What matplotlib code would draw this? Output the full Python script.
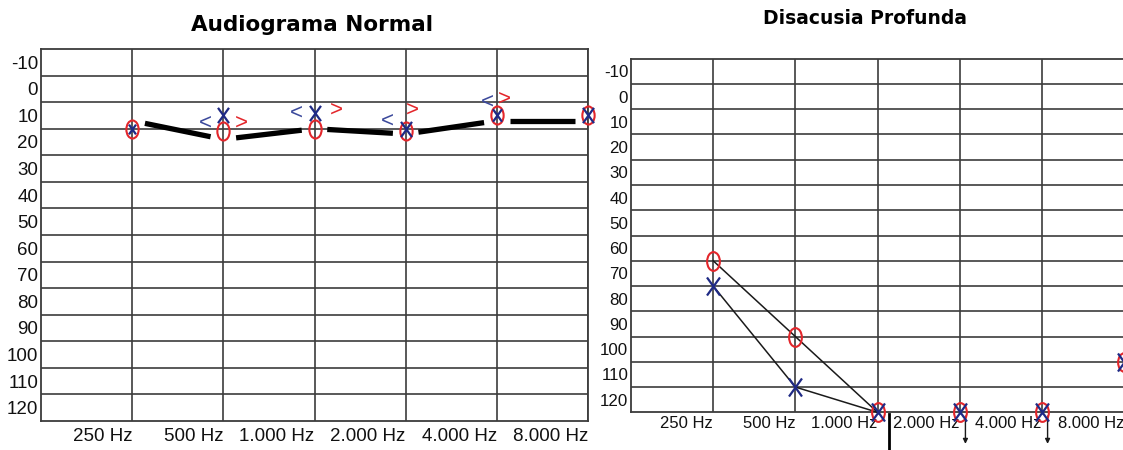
import numpy as np
import matplotlib
matplotlib.use("Agg")
import matplotlib.pyplot as plt
import matplotlib.path as mpath
import matplotlib.transforms as mtrans

# data
freqs = ["250 Hz", "500 Hz", "1.000 Hz", "2.000 Hz", "4.000 Hz", "8.000 Hz"]
db_labels = list(range(-10, 130, 10))

# Audiograma Normal
normal_o = [10, 11, 10, 11, 5, 5]
normal_x = [10, 5, 4, 10, 5, 5]
normal_avg = [7, 14, 10, 12, 7, 7]
normal_bc_left = [None, 8, 4, 7, 0, None]   # "<"
normal_bc_right = [None, 8, 3, 3, -1, None]  # ">"

# Disacusia Profunda
prof_o = [60, 90, 120, 120, 120, 100]
prof_x = [70, 110, 120, 120, 120, 100]
prof_connected = 3  # lines only up to 1.000 Hz
prof_no_resp = ["2.000 Hz", "4.000 Hz"]

RED = "#e3262b"
BLUE = "#1f2a85"
BLUE_BC = "#3c4a9c"
GRID = "#3c3c3c"
TXT = "#111111"

plt.rcParams["font.family"] = ["Liberation Sans", "DejaVu Sans"]

# marker shapes: tall ellipse for O, tall cross for X
o_path = mpath.Path.unit_circle().transformed(mtrans.Affine2D().scale(0.68, 1.0))
x_path = mpath.Path([(-0.36, -0.5), (0.36, 0.5), (-0.36, 0.5), (0.36, -0.5)],
                    [mpath.Path.MOVETO, mpath.Path.LINETO, mpath.Path.MOVETO, mpath.Path.LINETO])

W, H = 1123, 450
fig = plt.figure(figsize=(W / 100, H / 100), dpi=100)


def setup(ax, ylab_size, xlab_size, xpad, xshift):
    ax.set_xlim(0, 6)
    ax.set_ylim(120, -20)
    ax.set_xticks(range(1, 7))
    ax.set_xticklabels(freqs, fontsize=xlab_size, color=TXT, ha="right")
    off = mtrans.ScaledTranslation(xshift / 100, 0, fig.dpi_scale_trans)
    for lab in ax.get_xticklabels():
        lab.set_transform(lab.get_transform() + off)
    ax.set_yticks(range(-10, 120, 10))
    ax.set_yticklabels([])
    ax.set_yticks([v - 5 for v in db_labels], minor=True)
    ax.set_yticklabels([str(v) for v in db_labels], minor=True, fontsize=ylab_size, color=TXT)
    ax.tick_params(which="both", length=0)
    ax.tick_params(axis="x", pad=xpad)
    ax.tick_params(axis="y", which="minor", pad=2)
    ax.grid(True, which="major", color=GRID, linewidth=1.2)
    for s in ax.spines.values():
        s.set_color(GRID)
        s.set_linewidth(1.3)


pos = np.arange(1, 7)

# left panel
ax1 = fig.add_axes([41 / W, 1 - 421 / H, 547 / W, 372 / H])
setup(ax1, 13.5, 13.5, 5, -4)

# thick line with gaps near the symbols
for i in range(5):
    x0, x1 = pos[i], pos[i + 1]
    y0, y1 = normal_avg[i], normal_avg[i + 1]
    t = np.array([0.14, 0.86])
    ax1.plot(x0 + (x1 - x0) * t, y0 + (y1 - y0) * t, color="black", lw=3.8,
             solid_capstyle="butt", zorder=3)

ax1.plot(pos, normal_o, ls="none", marker=o_path, ms=13, mfc="none", mec=RED,
         mew=1.5, clip_on=False, zorder=4)
x_sizes = [7, 11, 11, 11, 9, 11]
for p, v, s in zip(pos, normal_x, x_sizes):
    ax1.plot(p, v, ls="none", marker=x_path, ms=s, mec=BLUE, mew=1.6,
             clip_on=False, zorder=5)

bc_dx_left = [0, -0.2, -0.2, -0.2, -0.1, 0]
bc_dx_right = [0, 0.2, 0.24, 0.07, 0.08, 0]
for p, v, dx in zip(pos, normal_bc_left, bc_dx_left):
    if v is not None:
        ax1.text(p + dx, v, "<", color=BLUE_BC, fontsize=16, ha="center", va="center", zorder=5)
for p, v, dx in zip(pos, normal_bc_right, bc_dx_right):
    if v is not None:
        ax1.text(p + dx, v, ">", color=RED, fontsize=16, ha="center", va="center", zorder=5)

fig.text(312 / W, 1 - 25 / H, "Audiograma Normal", fontsize=15.5, fontweight="bold",
         family="DejaVu Sans", ha="center", va="center")

# right panel
ax2 = fig.add_axes([631 / W, 1 - 412.3 / H, 493 / W, 353.6 / H])
setup(ax2, 12.2, 12, 3, -3)

n = prof_connected
ax2.plot(pos[:n], prof_o[:n], color="#1a1a1a", lw=1.1, zorder=3, clip_on=False)
ax2.plot(pos[:n], prof_x[:n], color="#1a1a1a", lw=1.1, zorder=3, clip_on=False)
ax2.plot(pos, prof_o, ls="none", marker=o_path, ms=13.5, mfc="none", mec=RED,
         mew=1.5, clip_on=False, zorder=4)
ax2.plot(pos, prof_x, ls="none", marker=x_path, ms=13, mec=BLUE, mew=1.6,
         clip_on=False, zorder=5)

# no-response arrows and the stem under 1.000 Hz
for f in prof_no_resp:
    i = freqs.index(f)
    ax2.annotate("", xy=(pos[i] + 0.07, 132.5), xytext=(pos[i] + 0.07, 121.5),
                 arrowprops=dict(arrowstyle="-|>", color="#1a1a1a", lw=1.0,
                                 mutation_scale=7, shrinkA=0, shrinkB=0),
                 annotation_clip=False)
ax2.plot([pos[2] + 0.14, pos[2] + 0.14], [120.5, 136], color="black", lw=2,
         clip_on=False, zorder=3)

fig.text(865 / W, 1 - 18 / H, "Disacusia Profunda", fontsize=13.5, fontweight="bold",
         family="DejaVu Sans", ha="center", va="center")

fig.savefig("out.png", dpi=100)
